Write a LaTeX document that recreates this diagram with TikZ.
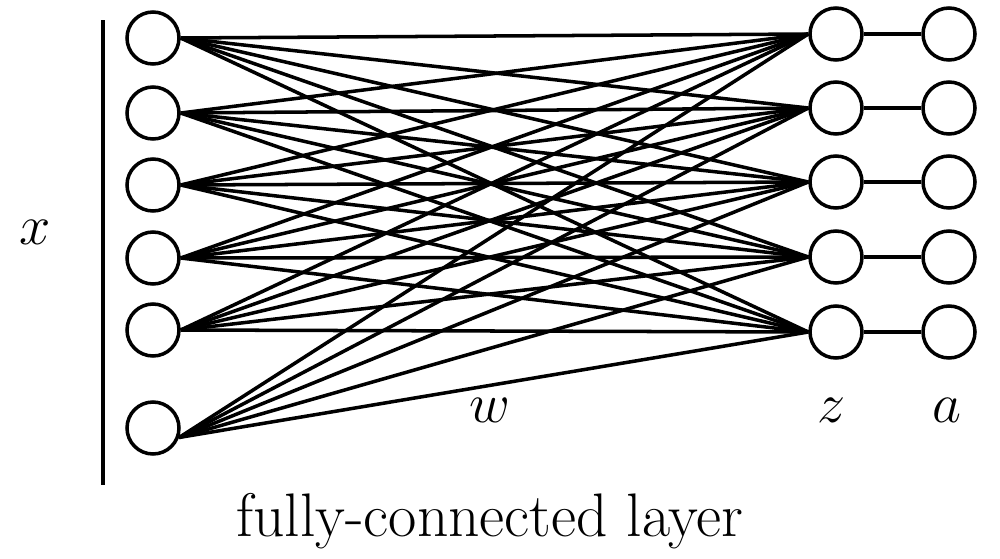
\RequirePackage{fix-cm}
\documentclass[tikz,border=0pt]{standalone}
\tikzset{unit/.style={circle,draw,line width=2pt,minimum size=1.04cm,inner sep=0pt}}
\begin{document}
\begin{tikzpicture}[x=0.02cm, y=-0.02cm, line width=2pt]
    \useasboundingbox (0,0) rectangle (1000,558);
    % input units
    \foreach \i/\y in {1/38,2/113,3/185,4/258,5/330,6/428}
        \node[unit] (x\i) at (153,\y) {};
    % weighted sums and activations
    \foreach \j/\y in {1/34,2/108,3/182,4/257,5/332} {
        \node[unit] (z\j) at (836,\y) {};
        \node[unit] (a\j) at (949,\y) {};
    }

    \foreach \i in {1,...,5}
        \foreach \j in {1,...,5}
            \draw (x\i.east) -- (z\j.west);
    \foreach \j in {1,...,5}
        \draw (x6.-20) -- (z\j.west);
    \foreach \j in {1,...,5}
        \draw (z\j) -- (a\j);

    \coordinate (bartop) at (103,20);
    \coordinate (barbot) at (103,485);
    \draw (bartop) -- (barbot);

    \node (xlab) at (35,232) {\fontsize{32}{38}\selectfont $x$};
    \node (wlab) at (490,410) {\fontsize{32}{38}\selectfont $w$};
    \node (zlab) at (832,410) {\fontsize{32}{38}\selectfont $z$};
    \node (alab) at (947,410) {\fontsize{32}{38}\selectfont $a$};
    \node (title) at (490,521) {\fontsize{35}{42}\selectfont fully-connected layer};
\end{tikzpicture}
\end{document}
